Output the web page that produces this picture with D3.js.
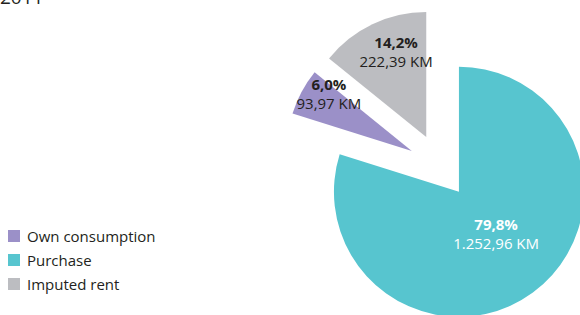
<!DOCTYPE html>
<html>
<head>
<meta charset="utf-8">
<script src="https://cdn.jsdelivr.net/npm/d3@7"></script>
<style>
  html, body { margin: 0; padding: 0; background: #fff; }
  svg { display: block; font-family: "Open Sans", "Noto Sans", sans-serif; }
</style>
</head>
<body>
<svg id="chart" width="580" height="315"></svg>
<script>
// ---- data ----
const title = "2011";
const categories = ["Purchase", "Own consumption", "Imputed rent"];
const values = [1252.96, 93.97, 222.39];
const percentLabels = ["79,8%", "6,0%", "14,2%"];
const valueLabels = ["1.252,96 KM", "93,97 KM", "222,39 KM"];
const legendOrder = ["Own consumption", "Purchase", "Imputed rent"];

// ---- style / layout ----
const colors = { "Purchase": "#57c5cf", "Own consumption": "#9b90c8", "Imputed rent": "#bcbdc1" };
const labelColors = { "Purchase": "#ffffff", "Own consumption": "#231f20", "Imputed rent": "#231f20" };
const labelRadius = { "Purchase": 60, "Own consumption": 98, "Imputed rent": 86 };
const labelAngleShift = { "Purchase": -2, "Own consumption": 4, "Imputed rent": 5 }; // degrees
const cx = 440, cy = 166, R = 125, explode = 32;

const svg = d3.select("#chart");

svg.append("text")
  .attr("x", 0).attr("y", 4)
  .attr("font-size", 19)
  .attr("fill", "#231f20")
  .text(title);

const pie = d3.pie().sort(null).value(d => d)(values);
const arc = d3.arc().innerRadius(0).outerRadius(R);

const g = svg.append("g").attr("transform", `translate(${cx},${cy})`);

const slices = g.selectAll("g.slice")
  .data(pie)
  .join("g")
  .attr("class", "slice")
  .attr("transform", d => {
    const mid = (d.startAngle + d.endAngle) / 2;
    return `translate(${Math.sin(mid) * explode},${-Math.cos(mid) * explode})`;
  });

slices.append("path")
  .attr("d", arc)
  .attr("fill", (d, i) => colors[categories[i]]);

const labelG = slices.append("g")
  .attr("fill", (d, i) => labelColors[categories[i]])
  .attr("transform", (d, i) => {
    const c = categories[i];
    const mid = (d.startAngle + d.endAngle) / 2 + labelAngleShift[c] * Math.PI / 180;
    const r = labelRadius[c];
    return `translate(${Math.sin(mid) * r},${-Math.cos(mid) * r})`;
  });

labelG.append("text")
  .attr("text-anchor", "middle")
  .attr("font-size", 15)
  .attr("y", -9)
  .attr("font-weight", 700)
  .text((d, i) => percentLabels[i]);

labelG.append("text")
  .attr("text-anchor", "middle")
  .attr("font-size", 15)
  .attr("y", 10)
  .text((d, i) => valueLabels[i]);

// ---- legend ----
const legend = svg.append("g").attr("transform", "translate(8,230)");
const item = legend.selectAll("g")
  .data(legendOrder)
  .join("g")
  .attr("transform", (d, i) => `translate(0,${i * 24})`);

item.append("rect")
  .attr("width", 12).attr("height", 12)
  .attr("fill", d => colors[d]);

item.append("text")
  .attr("x", 19).attr("y", 11.5)
  .attr("font-size", 15)
  .attr("fill", "#231f20")
  .text(d => d);
</script>
</body>
</html>
